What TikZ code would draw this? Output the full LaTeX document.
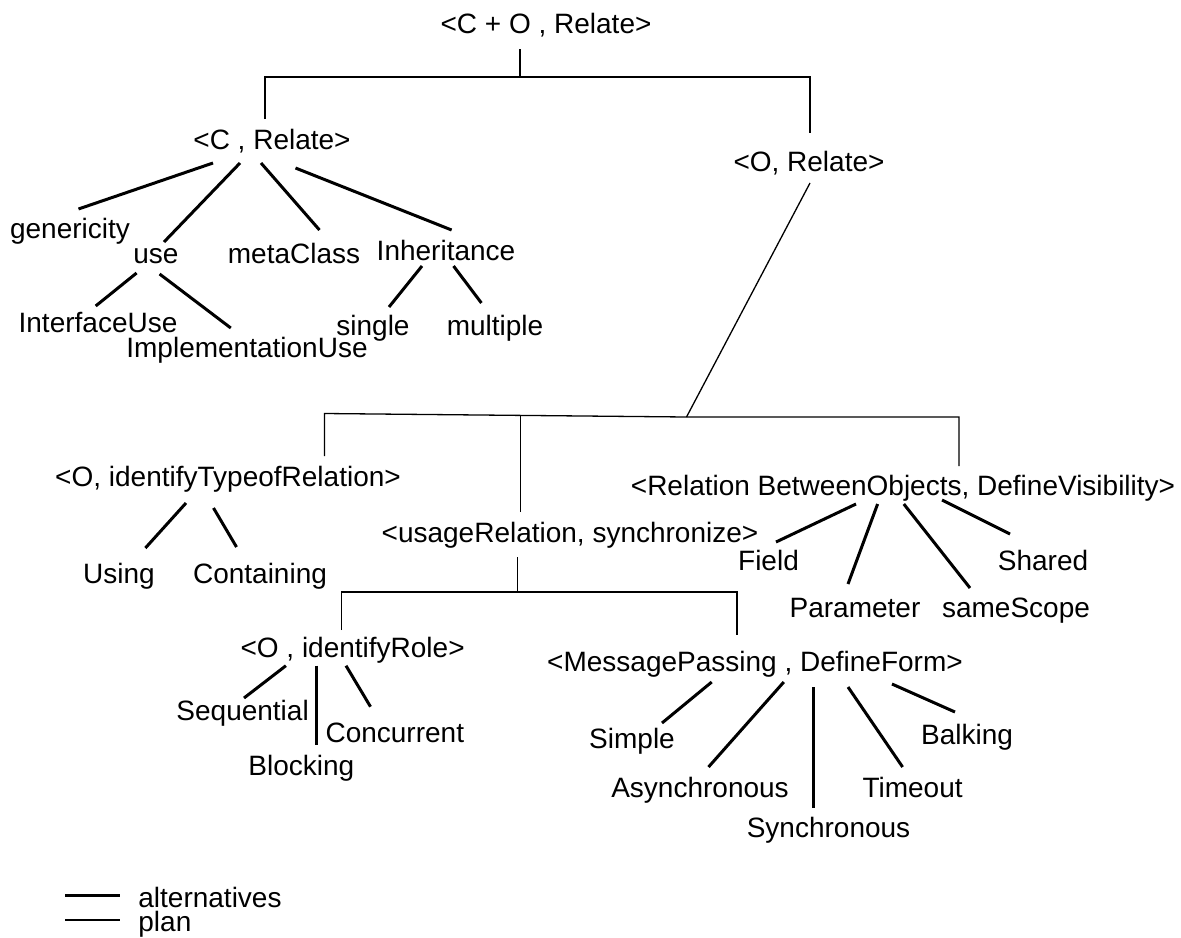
\documentclass[tikz,border=0pt]{standalone}
\usepackage{fontspec}
\setmainfont{Liberation Sans}
\usetikzlibrary{calc}
\begin{document}
\begin{tikzpicture}[x=0.5pt,y=-0.5pt,
  lbl/.style={anchor=base,inner sep=0pt,font=\fontsize{14}{16}\selectfont},
  leg/.style={anchor=base west,inner sep=0pt,font=\fontsize{14}{16}\selectfont},
  alt/.style={line width=1.5pt},
  plan/.style={line width=0.65pt}]
\useasboundingbox (0,0) rectangle (1181,937);

% goal nodes
\node[lbl] (root)   at (546,33)    {<C + O , Relate>};
\node[lbl] (crel)   at (272,149)   {<C , Relate>};
\node[lbl] (orel)   at (809,171)   {<O, Relate>};
\node[lbl] (gen)    at (70,238)    {genericity};
\node[lbl] (use)    at (156,263)   {use};
\node[lbl] (meta)   at (294,263)   {metaClass};
\node[lbl] (inh)    at (446,260)   {Inheritance};
\node[lbl] (iuse)   at (98,332)    {InterfaceUse};
\node[lbl] (impl)   at (247,357)   {ImplementationUse};
\node[lbl] (single) at (373,335)   {single};
\node[lbl] (multi)  at (495,335)   {multiple};
\node[lbl] (otype)  at (228,486)   {<O, identifyTypeofRelation>};
\node[lbl] (using)  at (119,583)   {Using};
\node[lbl] (contain) at (260,583)  {Containing};
\node[lbl] (usage)  at (570,542)   {<usageRelation, synchronize>};
\node[lbl] (relobj) at (903,495)   {<Relation BetweenObjects, DefineVisibility>};
\node[lbl] (field)  at (768.5,570) {Field};
\node[lbl] (param)  at (855,617)   {Parameter};
\node[lbl] (same)   at (1016,617)  {sameScope};
\node[lbl] (shared) at (1043,570)  {Shared};
\node[lbl] (role)   at (352.6,657) {<O , identifyRole>};
\node[lbl] (msg)    at (755,671)   {<MessagePassing , DefineForm>};
\node[lbl] (seq)    at (242.6,720) {Sequential};
\node[lbl] (conc)   at (394.8,742) {Concurrent};
\node[lbl] (block)  at (301.4,775) {Blocking};
\node[lbl] (simple) at (632,748)   {Simple};
\node[lbl] (async)  at (700,797)   {Asynchronous};
\node[lbl] (sync)   at (828.5,837) {Synchronous};
\node[lbl] (tout)   at (912.6,797) {Timeout};
\node[lbl] (balk)   at (967,744)   {Balking};
\coordinate (obar) at (686.5,417);

% plan decompositions
\draw[plan] ($(root.base)+(-26,16)$) -- ++(0,28);
\draw[plan] ($(crel.base)+(-7,-30)$) -- ++(0,-42) -| ($(orel.base)+(1,-38)$);
\draw[plan] ($(orel.base)+(1,12)$) -- (obar);
\draw[plan] ($(otype.base)+(96.5,-30)$) -- ++(0,-42.5) -- (obar)
            -- ++(272.5,0) -- ($(relobj.base)+(56,-29)$);
\draw[plan] ($(usage.base)+(-49.5,-30)$) -- ++(0,-97);
\draw[plan] ($(usage.base)+(-52.6,15)$) -- ++(0,35);
\draw[plan] ($(role.base)+(-10.8,-27)$) -- ++(0,-38) -| ($(msg.base)+(-18,-36)$);

% alternatives
\draw[alt] ($(crel.base)+(-59,14)$)   -- ($(gen.base)+(8.5,-29)$);
\draw[alt] ($(crel.base)+(-32,14)$)   -- ($(use.base)+(8,-21)$);
\draw[alt] ($(crel.base)+(-11,14)$)   -- ($(meta.base)+(25.5,-33)$);
\draw[alt] ($(crel.base)+(23.5,19)$)  -- ($(inh.base)+(5.6,-30)$);
\draw[alt] ($(use.base)+(-19.4,10)$)  -- ($(iuse.base)+(-2.3,-26)$);
\draw[alt] ($(use.base)+(3.6,11)$)    -- ($(impl.base)+(-16.2,-29)$);
\draw[alt] ($(inh.base)+(-24,6)$)     -- ($(single.base)+(16,-28)$);
\draw[alt] ($(inh.base)+(7.5,6)$)     -- ($(multi.base)+(-13.6,-32)$);

\draw[alt] ($(otype.base)+(-42,17)$)  -- ($(using.base)+(26.4,-35)$);
\draw[alt] ($(otype.base)+(-14.5,22)$) -- ($(contain.base)+(-23.5,-36)$);

\draw[alt] ($(relobj.base)+(-47,9)$)   -- ($(field.base)+(7.5,-28)$);
\draw[alt] ($(relobj.base)+(-25.4,9)$) -- ($(param.base)+(-7,-33)$);
\draw[alt] ($(relobj.base)+(0.8,9)$)   -- ($(same.base)+(-46,-29)$);
\draw[alt] ($(relobj.base)+(39,5)$)    -- ($(shared.base)+(-33,-36)$);

\draw[alt] ($(role.base)+(-66.7,8.7)$) -- ($(seq.base)+(1.4,-22)$);
\draw[alt] ($(role.base)+(-36.6,8.7)$) -- ($(block.base)+(14.6,-30)$);
\draw[alt] ($(role.base)+(-6.6,8.7)$)  -- ($(conc.base)+(-24.3,-35.3)$);

\draw[alt] ($(msg.base)+(-43.3,11)$) -- ($(simple.base)+(30,-25)$);
\draw[alt] ($(msg.base)+(28.8,11)$)  -- ($(async.base)+(8.5,-30)$);
\draw[alt] ($(msg.base)+(58.9,16)$)  -- ($(sync.base)+(-14.6,-29)$);
\draw[alt] ($(msg.base)+(93,16)$)    -- ($(tout.base)+(-10,-30)$);
\draw[alt] ($(msg.base)+(137,13)$)   -- ($(balk.base)+(-12,-32)$);

% legend
\node[leg] (lalt)  at (138,907) {alternatives};
\node[leg] (lplan) at (138,931) {plan};
\draw[alt]  ($(lalt.base west)+(-73,-12)$)  -- ++(55,0);
\draw[plan] ($(lplan.base west)+(-73,-11)$) -- ++(55,0);
\end{tikzpicture}
\end{document}
